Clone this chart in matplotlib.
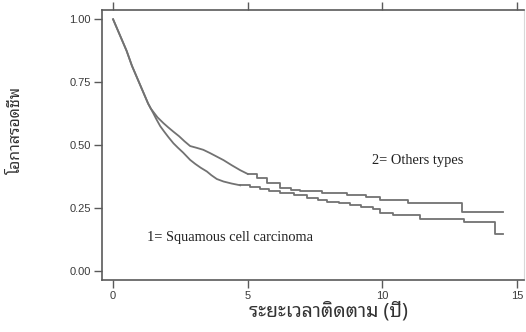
import matplotlib
matplotlib.use("Agg")
import matplotlib.pyplot as plt

# Kaplan-Meier survival estimates (years, survival probability)
common_t = [0.0, 0.1, 0.2, 0.3, 0.4, 0.5, 0.6, 0.7, 0.8, 0.9, 1.0, 1.1, 1.2, 1.3, 1.4]
common_s = [1.00, 0.975, 0.95, 0.925, 0.90, 0.875, 0.845, 0.815, 0.79, 0.765, 0.74, 0.715, 0.69, 0.665, 0.645]

# 1 = Squamous cell carcinoma
squamous_t = [1.5, 1.6, 1.75, 1.9, 2.05, 2.24, 2.4, 2.6, 2.86, 3.05, 3.25, 3.48, 3.65, 3.85, 4.1, 4.4,
              4.72, 5.1, 5.46, 5.8, 6.2, 6.7, 7.2, 7.6, 7.95, 8.4, 8.8, 9.2, 9.65, 9.9, 10.4, 11.4, 13.04, 14.16, 14.49]
squamous_s = [0.625, 0.604, 0.575, 0.553, 0.532, 0.507, 0.49, 0.47, 0.441, 0.425, 0.41, 0.395, 0.38, 0.365, 0.355, 0.347,
              0.34, 0.333, 0.325, 0.318, 0.31, 0.30, 0.29, 0.282, 0.274, 0.268, 0.262, 0.252, 0.245, 0.229, 0.22, 0.205, 0.196, 0.147, 0.147]

# 2 = Others types
others_t = [1.5, 1.65, 1.87, 2.05, 2.24, 2.45, 2.65, 2.86, 3.1, 3.35, 3.6, 3.85, 4.1, 4.4, 4.72, 5.0, 5.34,
            5.7, 6.2, 6.6, 6.94, 7.2, 7.76, 8.69, 9.4, 9.91, 10.95, 12.97, 14.48]
others_s = [0.631, 0.61, 0.587, 0.57, 0.553, 0.535, 0.515, 0.496, 0.489, 0.481, 0.468, 0.454, 0.44, 0.42, 0.40, 0.385, 0.368,
            0.35, 0.33, 0.322, 0.318, 0.316, 0.31, 0.30, 0.295, 0.282, 0.269, 0.233, 0.233]

x_ticks = [0, 5, 10, 15]
y_ticks = [0.00, 0.25, 0.50, 0.75, 1.00]
y_tick_labels = ["0.00", "0.25", "0.50", "0.75", "1.00"]

# events are dense early on, so that stretch is drawn as a continuous line
dense_until = 5.0

line_color = "#727272"
frame_color = "#5a5a5a"
thai_fonts = ["Noto Sans Thai Looped", "Sarabun", "Thasadith", "Noto Sans Thai", "DejaVu Sans"]

fig = plt.figure(figsize=(5.26, 3.32), dpi=100)
ax = fig.add_axes([0.194, 0.157, 0.802, 0.813])

for t, s in ((squamous_t, squamous_s), (others_t, others_s)):
    tt = common_t + t
    ss = common_s + s
    k = max(i for i, v in enumerate(tt) if v <= dense_until)
    ax.plot(tt[:k + 1], ss[:k + 1], color=line_color, lw=1.3, solid_joinstyle="round")
    ax.plot(tt[k:], ss[k:], drawstyle="steps-post", color=line_color, lw=1.3)

ax.set_xlim(-0.41, 15.25)
ax.set_ylim(-0.036, 1.037)

ax.set_xticks(x_ticks)
ax.set_yticks(y_ticks)
ax.set_yticklabels(y_tick_labels)
ax.tick_params(axis="both", direction="out", length=6, width=1.0, color=frame_color,
               labelsize=8, labelcolor="#3a3a3a", pad=2)
ax.tick_params(axis="x", top=True, labeltop=False)
for lab in ax.get_xticklabels() + ax.get_yticklabels():
    lab.set_family(["Liberation Sans", "DejaVu Sans"])

for side, sp in ax.spines.items():
    sp.set_color(frame_color)
    sp.set_linewidth(1.2)
ax.spines["right"].set_color("#d8d8d8")
ax.spines["right"].set_linewidth(0.8)

ax.text(9.6, 0.44, "2= Others types", family=["Liberation Serif", "DejaVu Serif"],
        fontsize=10.4, color="#222222", ha="left", va="center")
ax.text(1.27, 0.134, "1= Squamous cell carcinoma", family=["Liberation Serif", "DejaVu Serif"],
        fontsize=10.4, color="#222222", ha="left", va="center")

fig.text(328 / 526, 1 - 312 / 332, "ระยะเวลาติดตาม (ปี)", family=thai_fonts,
         fontsize=14, color="#333333", ha="center", va="center")
fig.text(16 / 526, 1 - 130 / 332, "โอกาสรอดชีพ", family=thai_fonts,
         fontsize=11.5, color="#333333", ha="center", va="center", rotation=90)

fig.savefig("out.png", dpi=100)
